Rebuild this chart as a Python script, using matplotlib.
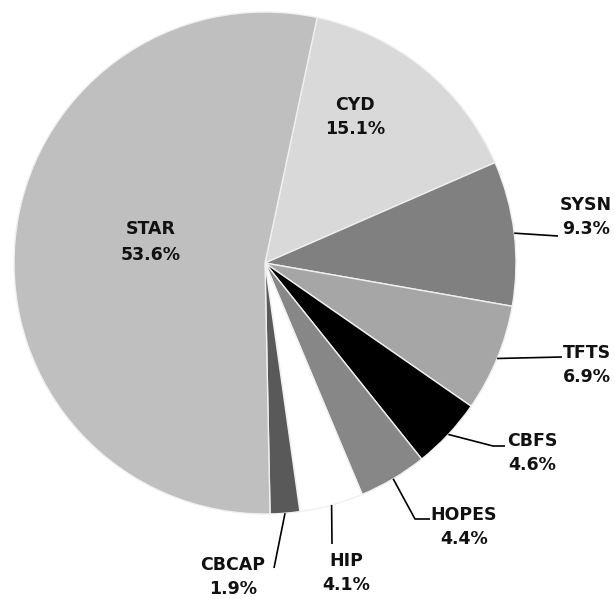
import matplotlib
matplotlib.use('Agg')
import matplotlib.pyplot as plt
import numpy as np

# ── Data ─────────────────────────────────────────────────────────
labels = ['CYD', 'SYSN', 'TFTS', 'CBFS', 'HOPES', 'HIP', 'CBCAP', 'STAR']
shares = [15.1, 9.3, 6.9, 4.6, 4.4, 4.1, 1.9, 53.6]
colors = ['#d9d9d9', '#808080', '#a6a6a6', '#000000',
          '#878787', '#ffffff', '#595959', '#bfbfbf']

# ── Layout (pixel coords, y down) ────────────────────────────────
W, H = 615, 599
cx, cy, R = 265, 263, 251
inside = {'CYD': (355, 117), 'STAR': (151, 242)}
outside = {  # text centre, leader path after the slice edge
    'SYSN':  ((586, 217), [(558, 236)]),
    'TFTS':  ((587, 365), [(562, 357)]),
    'CBFS':  ((532, 453), [(493, 446), (505, 446)]),
    'HOPES': ((464, 527), [(415, 519), (430, 519)]),
    'HIP':   ((346, 573), [(332, 544)]),
    'CBCAP': ((233, 577), [(274, 568)]),
}

fig = plt.figure(figsize=(W / 100, H / 100), dpi=100, facecolor='white')
ax = fig.add_axes([0, 0, 1, 1])

wedges, _ = ax.pie(shares, colors=colors, startangle=78, counterclock=False,
                   center=(cx, H - cy), radius=R, frame=True,
                   wedgeprops=dict(edgecolor='#f0f0f0', linewidth=1.0))
ax.set_xlim(0, W)
ax.set_ylim(0, H)
ax.set_aspect('equal')
ax.axis('off')

font = dict(family=['DejaVu Sans'], fontsize=12.5, fontweight='bold',
            color='#111111', ha='center', va='center', linespacing=1.5)

for w, lab, val in zip(wedges, labels, shares):
    txt = f'{lab}\n{val:.1f}%'
    if lab in inside:
        x, y = inside[lab]
        ax.text(x, H - y, txt, **font)
        continue
    (tx, ty), path = outside[lab]
    ang = np.deg2rad((w.theta1 + w.theta2) / 2)
    ex, ey = cx + R * np.cos(ang), H - cy + R * np.sin(ang)
    xs = [ex] + [p[0] for p in path]
    ys = [ey] + [H - p[1] for p in path]
    ax.plot(xs, ys, color='black', lw=1.2, solid_capstyle='butt')
    ax.text(tx, H - ty, txt, **font)

fig.savefig('out.png', dpi=100, facecolor='white')
